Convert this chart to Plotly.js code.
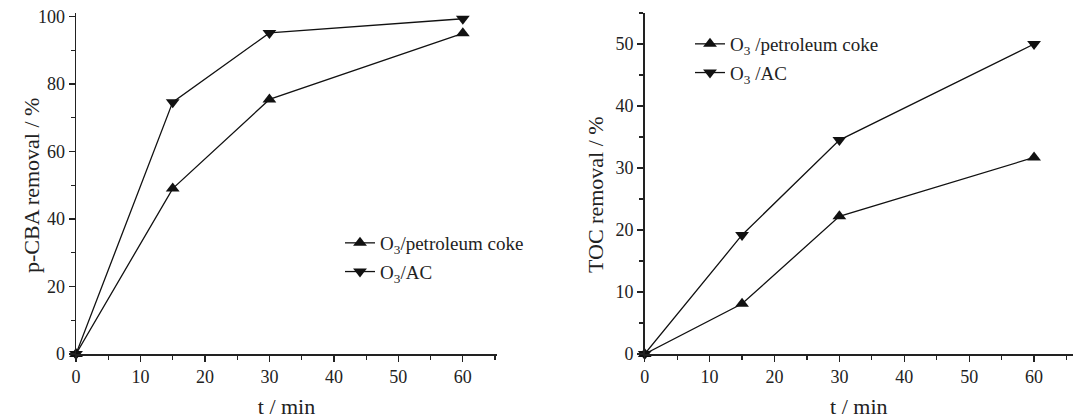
<!DOCTYPE html>
<html><head><meta charset="utf-8">
<script src="https://cdn.plot.ly/plotly-3.0.1.min.js"></script>
<style>html,body{margin:0;padding:0;background:#fff;}#chart{width:1073px;height:419px;}</style>
</head><body><div id="chart"></div>
<script>
const time = [0, 15, 30, 60];
const pcbaPetroleumCoke = [0, 49.0, 75.4, 95.0];
const pcbaAC = [0, 74.6, 95.1, 99.3];
const tocPetroleumCoke = [0, 8.1, 22.2, 31.7];
const tocAC = [0, 19.2, 34.5, 50.0];
const seriesNames = ['O<sub>3</sub>/petroleum coke', 'O<sub>3</sub>/AC'];
const seriesNames2 = ['O<sub>3</sub> /petroleum coke', 'O<sub>3</sub> /AC'];
const yTitles = ['p-CBA removal / %', 'TOC removal / %'];
const xTitle = 't / min';

const font = 'Liberation Serif, Times New Roman, serif';
const lineStyle = {color: '#111', width: 1.3};
function tr(x, y, name, sym, xa, ya, lg, grp) {
  return {x: x, y: y, name: name, type: 'scatter', mode: 'lines+markers',
    xaxis: xa, yaxis: ya, legend: lg, legendgroup: grp, cliponaxis: false,
    line: lineStyle, marker: {symbol: sym, size: 12, color: '#111'}};
}
const data = [
  tr(time, pcbaPetroleumCoke, seriesNames[0], 'triangle-up', 'x', 'y', 'legend', 'a'),
  tr(time, pcbaAC, seriesNames[1], 'triangle-down', 'x', 'y', 'legend', 'b'),
  tr(time, tocPetroleumCoke, seriesNames2[0], 'triangle-up', 'x2', 'y2', 'legend2', 'c'),
  tr(time, tocAC, seriesNames2[1], 'triangle-down', 'x2', 'y2', 'legend2', 'd')
];
const tickFont = {family: font, size: 18, color: '#222'};
const titleFont = {family: font, size: 22, color: '#222'};
function xax(domain, range, anchor) {
  return {domain: domain, range: range, anchor: anchor, showgrid: false, zeroline: false,
    showline: true, linecolor: '#222', linewidth: 1.5, ticks: 'outside', ticklen: 6, tickwidth: 1.3,
    tickcolor: '#222', dtick: 10, tick0: 0, tickfont: tickFont,
    minor: {ticks: 'outside', ticklen: 4, tickwidth: 1.2, tickcolor: '#222', dtick: 5},
    title: {text: xTitle, font: titleFont, standoff: 12}};
}
function yax(domain, range, dtick, mdtick, anchor) {
  return {domain: domain, range: range, anchor: anchor, showgrid: false, zeroline: false,
    showline: true, linecolor: '#222', linewidth: 1.5, ticks: 'outside', ticklen: 6, tickwidth: 1.3,
    tickcolor: '#222', dtick: dtick, tick0: 0, tickfont: tickFont,
    minor: {ticks: 'outside', ticklen: 4, tickwidth: 1.2, tickcolor: '#222', dtick: mdtick}};
}
const legendBase = {font: {family: font, size: 19, color: '#222'}, bgcolor: 'rgba(0,0,0,0)',
  borderwidth: 0, tracegroupgap: 1, itemwidth: 30};
const layout = {
  width: 1073, height: 419, margin: {l: 0, r: 0, t: 0, b: 0},
  paper_bgcolor: '#fff', plot_bgcolor: '#fff', showlegend: true,
  xaxis: xax([76/1073, 497/1073], [0, 65.3], 'y'),
  yaxis: yax([65/419, 406/419], [0, 101], 20, 10, 'x'),
  xaxis2: xax([644.7/1073, 1], [0, 66], 'y2'),
  yaxis2: yax([65/419, 406/419], [0, 55], 10, 5, 'x2'),
  legend: Object.assign({x: 340/1073, y: 1 - 224/419, xanchor: 'left', yanchor: 'top'}, legendBase),
  legend2: Object.assign({x: 690/1073, y: 1 - 25/419, xanchor: 'left', yanchor: 'top'}, legendBase),
  annotations: [
    {text: yTitles[0], xref: 'paper', yref: 'paper', x: 31/1073, y: 1 - 186/419, textangle: -90,
     showarrow: false, xanchor: 'center', yanchor: 'middle', font: titleFont},
    {text: yTitles[1], xref: 'paper', yref: 'paper', x: 595/1073, y: 1 - 195/419, textangle: -90,
     showarrow: false, xanchor: 'center', yanchor: 'middle', font: titleFont}
  ]
};
Plotly.newPlot('chart', data, layout, {staticPlot: true, displayModeBar: false});
</script></body></html>
